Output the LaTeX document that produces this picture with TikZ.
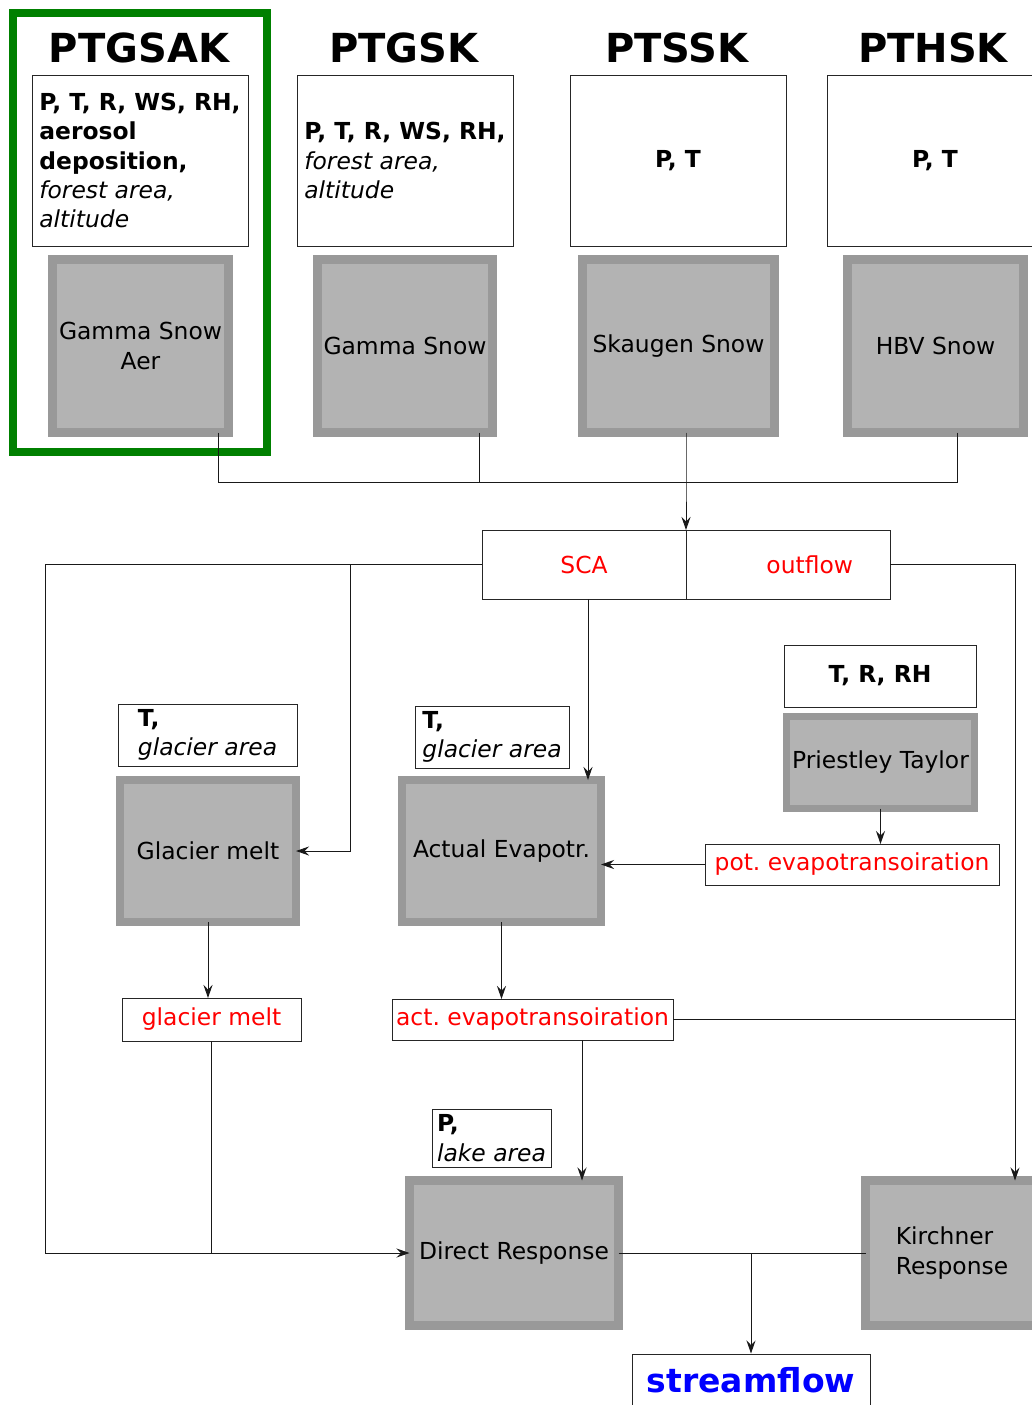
\documentclass[tikz,border=0pt]{standalone}
\usepackage{fontspec}
\setmainfont{DejaVu Sans}
\usepackage{tikz}
\usetikzlibrary{arrows.meta,positioning}
\definecolor{modelrim}{RGB}{153,153,153}
\definecolor{modelfill}{RGB}{179,179,179}
\definecolor{flowred}{RGB}{255,0,0}
\definecolor{flowblue}{RGB}{0,0,255}
\definecolor{framegreen}{RGB}{0,128,0}
\frenchspacing

\begin{document}
\begin{tikzpicture}[x=1pt,y=-1pt,
  every node/.style={font=\fontsize{23.4}{29.3}\selectfont},
  mtitle/.style={font=\fontsize{40}{48}\selectfont\bfseries},
  inbox/.style={draw=black!85,line width=1pt,fill=white,align=left,inner sep=0pt},
  model/.style={draw=modelrim,fill=modelfill,line width=9pt,outer sep=0pt,align=center,inner sep=0pt},
  flux/.style={draw=black!85,line width=1pt,text=flowred,inner sep=0pt,outer sep=0pt},
  wire/.style={black!90,line width=1pt},
  arr/.style={wire,-{Stealth[length=13pt,width=9pt,inset=4.5pt]}}]
  \useasboundingbox (0,0) rectangle (1032,1405);
  % method stacks: title, inputs, snow routine
  \foreach \n/\x in {PTGSAK/139,PTGSK/404,PTSSK/677,PTHSK/933}
    \node[mtitle] (t\n) at (\x,48) {\n};
  \node[inbox,minimum width=216pt,minimum height=171pt] (ingsa) at (140,160.5)
    {\textbf{P, T, R, WS, RH,}\\\textbf{aerosol}\\\textbf{deposition,}\\\textit{forest area,}\\\textit{altitude}};
  \node[inbox,minimum width=216pt,minimum height=171pt] (ings) at (405,160.5)
    {\textbf{P, T, R, WS, RH,}\\\textit{forest area,}\\\textit{altitude}};
  \node[inbox,minimum width=216pt,minimum height=171pt] (inss) at (678,160.5) {\textbf{P, T}};
  \node[inbox,minimum width=216pt,minimum height=171pt] (inhbv) at (935,160.5) {\textbf{P, T}};
  \node[model,minimum width=176pt,minimum height=173pt] (gsa) at (140.5,346) {Gamma Snow\\Aer};
  \node[model,minimum width=175pt,minimum height=173pt] (gs) at (405,346) {Gamma Snow};
  \node[model,minimum width=192pt,minimum height=173pt] (ss) at (678.5,346) {Skaugen Snow};
  \node[model,minimum width=176pt,minimum height=173pt] (hbv) at (935.5,346) {HBV Snow};
  \node[draw=framegreen,line width=8pt,minimum width=254pt,minimum height=439pt] (aerframe) at (140,232.5) {};
  % snow outputs
  \node[flux,minimum width=204pt,minimum height=69pt] (sca) at (584,564.5) {SCA};
  \node[flux,minimum width=204pt,minimum height=69pt,text width=130pt,align=right] (outflow) at (788,564.5) {outflow};
  % evapotranspiration and glacier
  \node[inbox,align=center,minimum width=192pt,minimum height=62pt] (inpt) at (880,676) {\textbf{T, R, RH}};
  \node[model,line width=7pt,minimum width=188pt,minimum height=92pt] (pt) at (880.5,762.5) {Priestley Taylor};
  \node[flux,minimum width=294pt,minimum height=41pt] (pot) at (852,864.5) {pot. evapotransoiration};
  \node[inbox,minimum width=179pt,minimum height=62pt] (ingm) at (207.5,735) {\textbf{T,}\\\textit{glacier area}};
  \node[inbox,minimum width=154pt,minimum height=62pt] (inae) at (492,737) {\textbf{T,}\\\textit{glacier area}};
  \node[model,line width=8pt,minimum width=176pt,minimum height=142pt] (gm) at (208,851) {Glacier melt};
  \node[model,line width=8pt,minimum width=199pt,minimum height=142pt] (ae) at (501.5,851) {Actual Evapotr.};
  \node[flux,minimum width=179pt,minimum height=43pt] (gmflux) at (211.5,1019.5) {glacier melt};
  \node[flux,minimum width=281pt,minimum height=41pt] (aeflux) at (532.5,1019.5) {act. evapotransoiration};
  % response routines
  \node[inbox,minimum width=119pt,minimum height=58pt] (indr) at (491.5,1138) {\textbf{P,}\\\textit{lake area}};
  \node[model,minimum width=209pt,minimum height=145pt] (dr) at (514,1253) {Direct Response};
  \node[model,minimum width=173pt,minimum height=145pt,align=left] (kr) at (952,1253) {Kirchner\\Response};
  \node[draw=black!85,line width=1pt,minimum width=238pt,minimum height=52pt,text=flowblue,
    font=\fontsize{33}{40}\selectfont\bfseries] (streamflow) at (751,1380) {streamflow};
  % snow routines into SCA / outflow
  \coordinate (snowjoin) at (686,482);
  \draw[wire] ([xshift=77.5pt]gsa.south) |- (snowjoin);
  \draw[wire] ([xshift=74pt]gs.south) |- (snowjoin);
  \draw[wire] ([xshift=21.5pt]hbv.south) |- (snowjoin);
  \draw[arr] ([xshift=7.5pt]ss.south) -- (snowjoin) -- (sca.north east);
  % SCA routing
  \coordinate (leftbus) at (45,1253);
  \coordinate (gmtap) at (350,564.5);
  \coordinate (scatap) at ([xshift=4pt]sca.south);
  \draw[arr] (sca.west) -| (leftbus) -- (dr.west);
  \draw[arr] (gmtap) |- (gm.east);
  \draw[arr] (scatap) -- (scatap |- ae.north);
  % outflow to Kirchner
  \coordinate (krtap) at ([xshift=63pt]kr.north);
  \draw[arr] (outflow.east) -| (krtap);
  % evapotranspiration chain
  \draw[arr] (pt.south) -- (pt.south |- pot.north);
  \draw[arr] (pot.west) -- (pot.west -| ae.east);
  \draw[arr] (gm.south) -- (gm.south |- gmflux.north);
  \draw[arr] (ae.south) -- (ae.south |- aeflux.north);
  \draw[wire] (aeflux.east) -- (aeflux.east -| krtap);
  \coordinate (aetap) at ([xshift=49.5pt]aeflux.south);
  \draw[arr] (aetap) -- (aetap |- dr.north);
  \draw[wire] (gmflux.south) -- (gmflux.south |- dr.west);
  % responses to streamflow
  \draw[wire] (dr.east) -- (kr.west);
  \coordinate (outjoin) at (751,1253);
  \draw[arr] (outjoin) -- (streamflow.north);
\end{tikzpicture}
\end{document}
